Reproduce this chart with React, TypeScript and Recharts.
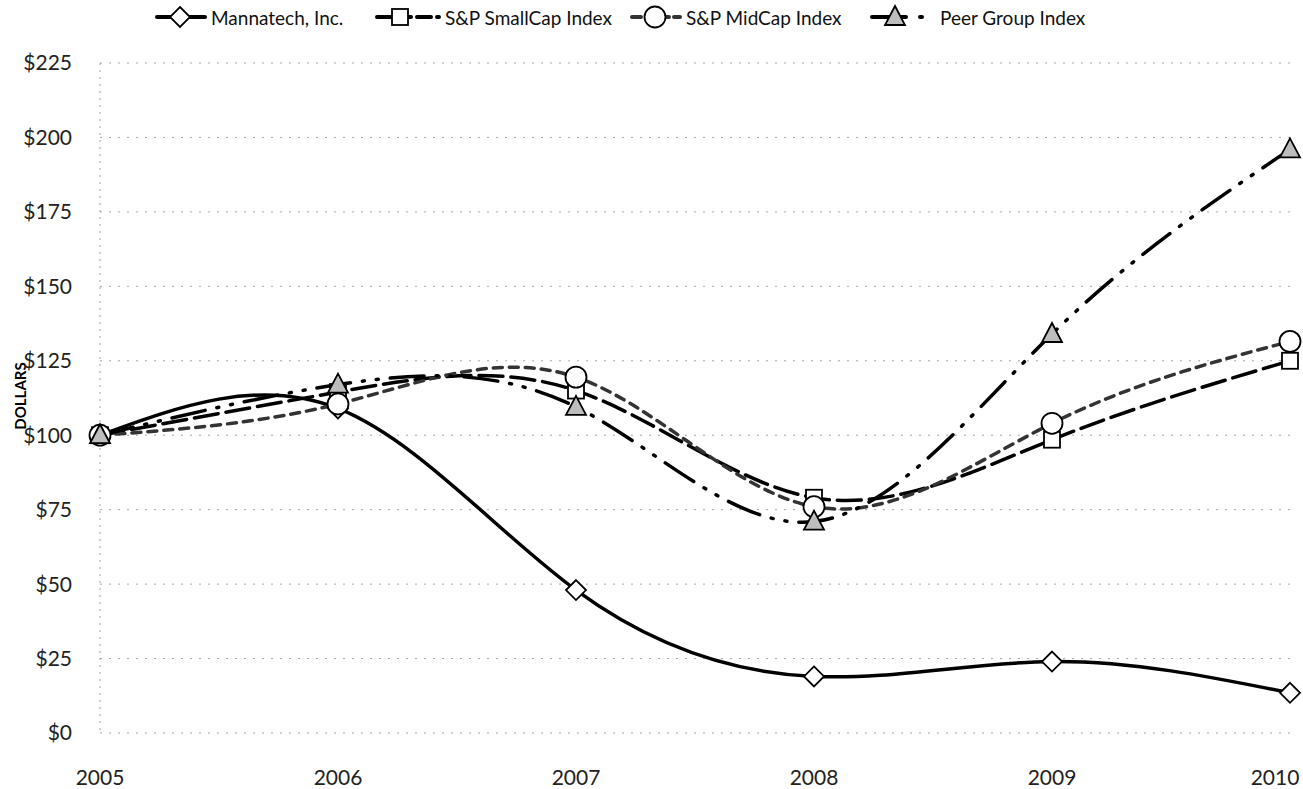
import React from 'react';
import { LineChart, Line, XAxis, YAxis, CartesianGrid, Legend } from 'recharts';

const years = ['2005', '2006', '2007', '2008', '2009', '2010'];
const mannatech = [100, 109, 48, 19, 24, 13.5];
const smallCap = [100, 114.5, 115, 79, 98.5, 125];
const midCap = [100, 110.5, 119.5, 76, 104, 131.5];
const peerGroup = [100, 117, 109.5, 71, 134, 196];
const yTicks = [0, 25, 50, 75, 100, 125, 150, 175, 200, 225];

const data = years.map((y, i) => ({
  year: y,
  mannatech: mannatech[i],
  smallCap: smallCap[i],
  midCap: midCap[i],
  peerGroup: peerGroup[i],
}));

const FONT = 'Lato, "Open Sans", sans-serif';

const Diamond = (p: any) => {
  const { cx, cy } = p;
  if (cx == null || cy == null) return null;
  const r = 10;
  return (
    <polygon
      key={`d-${cx}`}
      points={`${cx},${cy - r} ${cx + r},${cy} ${cx},${cy + r} ${cx - r},${cy}`}
      fill="#fff"
      stroke="#000"
      strokeWidth={1.8}
    />
  );
};
const Square = (p: any) => {
  const { cx, cy } = p;
  if (cx == null || cy == null) return null;
  const s = 8;
  return <rect key={`s-${cx}`} x={cx - s} y={cy - s} width={2 * s} height={2 * s} fill="#fff" stroke="#000" strokeWidth={1.8} />;
};
const Circ = (p: any) => {
  const { cx, cy } = p;
  if (cx == null || cy == null) return null;
  return <circle key={`c-${cx}`} cx={cx} cy={cy} r={10.5} fill="#fff" stroke="#000" strokeWidth={1.8} />;
};
const Tri = (p: any) => {
  const { cx, cy } = p;
  if (cx == null || cy == null) return null;
  return (
    <polygon
      key={`t-${cx}`}
      points={`${cx},${cy - 11} ${cx + 10},${cy + 8} ${cx - 10},${cy + 8}`}
      fill="#bdbdbd"
      stroke="#000"
      strokeWidth={1.8}
    />
  );
};

const LegendContent = () => {
  const items = [
    { left: 155, w: 52, label: 'Mannatech, Inc.', dash: undefined, color: '#000', marker: 'd' },
    { left: 375, w: 66, label: 'S&P SmallCap Index', dash: '14 6', color: '#000', marker: 's' },
    { left: 630, w: 52, label: 'S&P MidCap Index', dash: '9 5', color: '#333', marker: 'c' },
    { left: 870, w: 66, label: 'Peer Group Index', dash: '34 14 2 14', color: '#000', marker: 't' },
  ];
  return (
    <div style={{ position: 'relative', height: 34, width: 1303, fontFamily: FONT, fontSize: 19, color: '#111' }}>
      {items.map((it) => (
        <div key={it.label} style={{ position: 'absolute', left: it.left, top: 4, display: 'flex', alignItems: 'center', height: 26 }}>
          <svg width={it.w} height={26}>
            <line x1={2} y1={13} x2={it.w - 2} y2={13} stroke={it.color} strokeWidth={4} strokeDasharray={it.dash} strokeLinecap="round" />
            {it.marker === 'd' && <Diamond cx={25} cy={13} />}
            {it.marker === 's' && <Square cx={25} cy={13} />}
            {it.marker === 'c' && <Circ cx={25} cy={13} />}
            {it.marker === 't' && <Tri cx={25} cy={13} />}
          </svg>
          <span style={{ marginLeft: 4, whiteSpace: 'nowrap' }}>{it.label}</span>
        </div>
      ))}
    </div>
  );
};

const DollarsLabel = () => (
  <text
    x={20}
    y={396}
    transform="rotate(-90 20 396)"
    textAnchor="middle"
    dominantBaseline="central"
    fontFamily={FONT}
    fontSize={15}
    fontWeight={700}
    fill="#000"
  >
    DOLLARS
  </text>
);

const XTick = (props: any) => {
  const { x, y, payload } = props;
  const half = 25;
  const maxRight = 1300;
  const cx = Math.min(x, maxRight - half);
  return (
    <text x={cx} y={y} textAnchor="middle" dominantBaseline="central" fontFamily={FONT} fontSize={21} fill="#222">
      {payload.value}
    </text>
  );
};

export default function App() {
  return (
    <div style={{ position: 'absolute', left: 0, top: 0, background: '#fff' }}>
      <LineChart width={1303} height={789} data={data} margin={{ top: 29, right: 13, bottom: 16, left: 0 }}>
        <Legend verticalAlign="top" wrapperStyle={{ top: 0, left: 0, width: 1303 }} content={<LegendContent />} />
        <CartesianGrid vertical={false} stroke="#a5a5a5" strokeDasharray="2 7" />
        <XAxis
          dataKey="year"
          height={40}
          axisLine={false}
          tickLine={false}
          tickSize={0}
          tickMargin={43}
          tick={<XTick />}
          interval={0}
        />
        <YAxis
          width={100}
          domain={[0, 225]}
          ticks={yTicks}
          interval={0}
          tickFormatter={(v: number) => `$${v}`}
          axisLine={{ stroke: '#a5a5a5', strokeDasharray: '2 5' }}
          tickLine={false}
          tickSize={0}
          tickMargin={28}
          tick={{ fontFamily: FONT, fontSize: 21, fill: '#222' }}
          label={{ content: () => <DollarsLabel /> }}
        />
        <Line
          type="natural"
          dataKey="mannatech"
          name="Mannatech, Inc."
          stroke="#000"
          strokeWidth={3.5}
          dot={<Diamond />}
          activeDot={false}
          isAnimationActive={false}
        />
        <Line
          type="natural"
          dataKey="smallCap"
          name="S&P SmallCap Index"
          stroke="#000"
          strokeWidth={3.5}
          strokeDasharray="24 8"
          strokeLinecap="round"
          dot={<Square />}
          activeDot={false}
          isAnimationActive={false}
        />
        <Line
          type="natural"
          dataKey="midCap"
          name="S&P MidCap Index"
          stroke="#333"
          strokeWidth={3.5}
          strokeDasharray="9 7"
          strokeLinecap="round"
          dot={<Circ />}
          activeDot={false}
          isAnimationActive={false}
        />
        <Line
          type="natural"
          dataKey="peerGroup"
          name="Peer Group Index"
          stroke="#000"
          strokeWidth={3.5}
          strokeDasharray="34 12 2 12 2 12"
          strokeLinecap="round"
          dot={<Tri />}
          activeDot={false}
          isAnimationActive={false}
        />
      </LineChart>
    </div>
  );
}
